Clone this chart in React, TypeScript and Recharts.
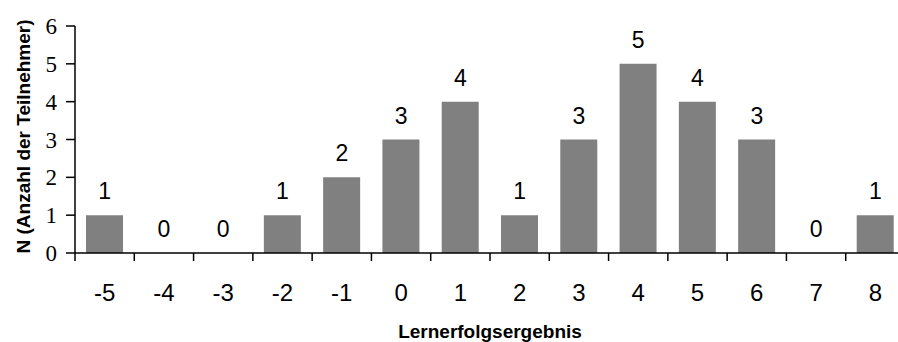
import { ComposedChart, Bar, Line, XAxis, YAxis, LabelList, Label } from "recharts";

const categories = ["-5", "-4", "-3", "-2", "-1", "0", "1", "2", "3", "4", "5", "6", "7", "8"];
const counts = [1, 0, 0, 1, 2, 3, 4, 1, 3, 5, 4, 3, 0, 1];
const yTicks = [0, 1, 2, 3, 4, 5, 6];

const data = categories.map((c, i) => ({ name: c, value: counts[i] }));

const W = 920;
const H = 342;
const MARGIN = { top: 26, right: 15, bottom: 0, left: 10 };
const Y_W = 65;
const SANS = "'Liberation Sans', Arial, sans-serif";
const SERIF = "'Liberation Serif', 'Times New Roman', serif";

// x tick: label at category centre, tick mark on the boundary between categories
const XTick = (props: any) => {
  const { x, y, payload } = props;
  const band = (W - MARGIN.left - MARGIN.right - Y_W) / categories.length;
  const half = payload?.offset || band / 2;
  const axisY = y - 8;
  return (
    <g>
      <line x1={x - half} x2={x - half} y1={axisY} y2={axisY + 8} stroke="#000" strokeWidth={1.5} />
      <text x={x} y={axisY + 48} textAnchor="middle" fontSize={24} fontFamily={SANS} fill="#000">
        {payload.value}
      </text>
    </g>
  );
};

export default function App() {
  return (
    <div style={{ position: "absolute", left: 0, top: 0, width: 898, height: 342, overflow: "hidden", background: "#fff" }}>
      <ComposedChart width={W} height={H} data={data} margin={MARGIN}>
        <XAxis
          dataKey="name"
          height={89}
          tickLine={false}
          tickSize={8}
          tickMargin={0}
          axisLine={{ stroke: "#000", strokeWidth: 1.5 }}
          tick={<XTick />}
          interval={0}
        >
          <Label
            content={(p: any) => {
              const vb = p.viewBox;
              return (
                <text x={vb.x + vb.width / 2} y={vb.y + 85} textAnchor="middle" fontSize={19} fontWeight="bold" fontFamily={SANS} fill="#000">
                  Lernerfolgsergebnis
                </text>
              );
            }}
          />
        </XAxis>
        <YAxis
          width={Y_W}
          domain={[0, 6]}
          ticks={yTicks}
          interval={0}
          tickSize={9}
          tickMargin={9}
          axisLine={{ stroke: "#000", strokeWidth: 1.5 }}
          tickLine={{ stroke: "#000", strokeWidth: 1.5 }}
          tick={{ fontSize: 23, fontFamily: SERIF, fill: "#000" }}
        >
          <Label
            content={(p: any) => {
              const vb = p.viewBox;
              const cx = vb.x + 13;
              const cy = vb.y + vb.height / 2 - 3;
              return (
                <text
                  x={cx}
                  y={cy}
                  transform={`rotate(-90, ${cx}, ${cy})`}
                  textAnchor="middle"
                  dominantBaseline="central"
                  fontSize={19}
                  fontWeight="bold"
                  fontFamily={SANS}
                  fill="#000"
                >
                  N (Anzahl der Teilnehmer)
                </text>
              );
            }}
          />
        </YAxis>
        <Bar dataKey="value" fill="#808080" barSize={37} isAnimationActive={false} />
        {/* invisible line only to carry the value labels, so zero counts get a "0" too */}
        <Line dataKey="value" stroke="none" dot={false} activeDot={false} legendType="none" isAnimationActive={false}>
          <LabelList dataKey="value" position="top" offset={16} fontSize={23} fontFamily={SANS} fill="#000" />
        </Line>
      </ComposedChart>
    </div>
  );
}
